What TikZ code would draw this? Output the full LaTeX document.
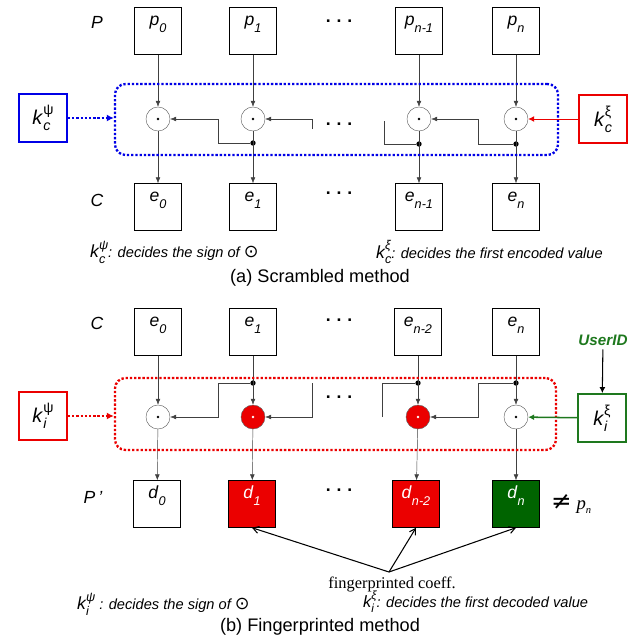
\documentclass[tikz,border=0pt]{standalone}
\usepackage{fontspec}
\setmainfont{Liberation Sans}
\newfontfamily\symfont{DejaVu Sans}
\newfontfamily\coefffont{Liberation Serif}
\usetikzlibrary{arrows.meta,positioning}

\definecolor{keyblue}{RGB}{0,0,230}
\definecolor{keyred}{RGB}{235,0,0}
\definecolor{keygreen}{RGB}{30,120,30}
\definecolor{darkgreen}{RGB}{0,100,0}

% letter with its index set low
\newcommand{\cf}[2]{\textit{#1}\raisebox{-0.4em}{\scalebox{0.72}{\textit{#2}}}}
% key symbol k with index and exponent
\newcommand{\kk}[2]{\textit{k}\ooalign{\raisebox{0.5em}{\scalebox{0.72}{#2}}\cr\raisebox{-0.3em}{\scalebox{0.72}{\textit{#1}}}\cr}}
\newcommand{\odotsign}{{\upshape\symfont\fontsize{15}{15}\selectfont ⊙}}

\tikzset{
  coeff/.style={draw, minimum size=1.41cm, inner sep=0pt, text height=9pt, text depth=19pt,
    font=\fontsize{15}{16}\selectfont},
  keybox/.style={draw, line width=1.6pt, minimum size=1.44cm, inner sep=0pt,
    font=\fontsize{17}{18}\selectfont},
  op/.style={circle, draw=black!60, minimum size=0.72cm, inner sep=0pt,
    path picture={\fill[black] (path picture bounding box.center) circle (1.2pt);}},
  opmark/.style={circle, draw=black!60, fill=keyred, minimum size=0.72cm, inner sep=0pt,
    path picture={\fill[white] (path picture bounding box.center) circle (1.2pt);}},
  jn/.style={circle, fill=black, inner sep=0pt, minimum size=0.16cm},
  frame/.style={draw, line width=2pt, dash pattern=on 2pt off 1.6pt, rounded corners=9pt, inner sep=0pt},
  keyline/.style={line width=2pt, dash pattern=on 2pt off 1.6pt, -{Latex[length=6pt,width=6pt]}},
  flow/.style={draw=black!75, -{Latex[length=5pt,width=4pt]}},
  wire/.style={draw=black!75},
  pointer/.style={line width=0.9pt, -{Straight Barb[length=5pt,width=6pt]}},
  tag/.style={font=\fontsize{15}{16}\selectfont\itshape},
  dots/.style={font=\fontsize{15}{16}\selectfont\bfseries},
  note/.style={font=\fontsize{12.5}{14}\selectfont\itshape, inner sep=0pt},
  title/.style={font=\fontsize{15.5}{17}\selectfont}
}

\begin{document}
\begin{tikzpicture}[x=0.03cm, y=-0.03cm]
\useasboundingbox (0,0) rectangle (636,636);

% (a) scrambled
\node[tag] (rowP) at (97,22) {P};
\node[tag] (rowC) at (97,200) {C};

\node[coeff] (p0) at (158,31) {\cf{p}{0}};
\node[coeff] (p1) at (253,31) {\cf{p}{1}};
\node[coeff] (p2) at (419,31) {\cf{p}{n-1}};
\node[coeff] (p3) at (516,31) {\cf{p}{n}};
\node[dots] (dotsP) at (339,21) {.\,\,.\,\,.};

\node[op] (c0) at (158,119) {};
\node[op] (c1) at (253,119) {};
\node[op] (c2) at (419,119) {};
\node[op] (c3) at (516,119) {};
\node[dots] (dotsO) at (339,124) {.\,\,.\,\,.};

\node[coeff] (e0) at (158,207) {\cf{e}{0}};
\node[coeff] (e1) at (253,207) {\cf{e}{1}};
\node[coeff] (e2) at (419,207) {\cf{e}{n-1}};
\node[coeff] (e3) at (516,207) {\cf{e}{n}};
\node[dots] (dotsE) at (339,193) {.\,\,.\,\,.};

\node[jn] (j1) at (253,143) {};
\node[jn] (j2) at (419,144) {};
\node[jn] (j3) at (516,144) {};

\draw[flow] (p0) -- (c0);
\draw[flow] (p1) -- (c1);
\draw[flow] (p2) -- (c2);
\draw[flow] (p3) -- (c3);
\draw[flow] (c0) -- (e0);
\draw[flow] (c1) -- (e1);
\draw[flow] (c2) -- (e2);
\draw[flow] (c3) -- (e3);

\draw[flow] (j1) -| (218,119) -- (c0.east);
\draw[flow] (312,129) |- (c1.east);
\draw[wire] (384,121) |- (j2);
\draw[flow] (j3) -| (478,119) -- (c2.east);

\node[frame, draw=keyblue, minimum width=13.29cm, minimum height=2.13cm] (scr) at (336.5,119.5) {};
\node[keybox, draw=keyblue] (kcpsi) at (43,118) {\kk{c}{ψ}};
\node[keybox, draw=keyred] (kcxi) at (603,119) {\kk{c}{ξ}};
\draw[keyline, keyblue] (kcpsi) -- (kcpsi -| scr.west);
\draw[keyred, thick, -{Latex[length=5pt,width=5pt]}] (kcxi) -- (c3);

\node[note, anchor=west] (notea1) at (90,252) {{\fontsize{15}{15}\selectfont\kk{c}{ψ}}: decides the sign of \odotsign};
\node[note, anchor=west] (notea2) at (376,252) {{\fontsize{15}{15}\selectfont\kk{c}{ξ}}: decides the first encoded value};
\node[title] (titlea) at (320,278) {(a) Scrambled method};

% (b) fingerprinted
\node[tag] (rowC2) at (97,323) {C};
\node[tag] (rowPd) at (93,497) {P\,’};

\node[coeff] (r0) at (158,332) {\cf{e}{0}};
\node[coeff] (r1) at (253,332) {\cf{e}{1}};
\node[coeff] (r2) at (418,332) {\cf{e}{n-2}};
\node[coeff] (r3) at (516,332) {\cf{e}{n}};
\node[dots] (dotsR) at (339,320) {.\,\,.\,\,.};

\node[op] (g0) at (158,417) {};
\node[opmark] (g1) at (253,417) {};
\node[opmark] (g2) at (418,417) {};
\node[op] (g3) at (516,417) {};
\node[dots] (dotsG) at (339,397) {.\,\,.\,\,.};

\node[coeff] (d0) at (157,504) {\cf{d}{0}};
\node[coeff, fill=keyred, text=white] (d1) at (252,504) {\cf{d}{1}};
\node[coeff, fill=keyred, text=white] (d2) at (416,504) {\cf{d}{n-2}};
\node[coeff, fill=darkgreen, text=white] (d3) at (516,504) {\cf{d}{n}};
\node[dots] (dotsD) at (339,490) {.\,\,.\,\,.};
\node[anchor=west, inner sep=0pt] (neq) at (551,504)
  {{\symfont\fontsize{21}{21}\selectfont ≠}\hspace{4pt}{\coefffont\itshape\fontsize{16}{16}\selectfont p}\raisebox{-3pt}{\coefffont\itshape\fontsize{9}{9}\selectfont n}};

\node[jn] (h1) at (253,383) {};
\node[jn] (h2) at (418,383) {};
\node[jn] (h3) at (516,383) {};

\draw[flow] (r0) -- (g0);
\draw[flow] (r1) -- (g1);
\draw[flow] (r2) -- (g2);
\draw[flow] (r3) -- (g3);
\draw[flow] (g0) -- (d0);
\draw[flow] (g1) -- (d1);
\draw[flow] (g2) -- (d2);
\draw[flow] (g3) -- (d3);

\draw[flow] (h1) -| (218,417) -- (g0.east);
\draw[flow] (312,383) |- (g1.east);
\draw[wire] (382,417) |- (h2);
\draw[flow] (h3) -| (478,417) -- (g2.east);

\node[frame, draw=keyred, minimum width=13.23cm, minimum height=2.16cm] (fgp) at (335.5,414) {};
\node[keybox, draw=keyred] (kipsi) at (43,416) {\kk{i}{ψ}};
\node[keybox, draw=keygreen] (kixi) at (602,418) {\kk{i}{ξ}};
\node[font=\fontsize{13}{14}\selectfont\bfseries\itshape, text=keygreen] (uid) at (603,340) {UserID};
\draw[keyline, keyred] (kipsi) -- (kipsi -| fgp.west);
\draw[keygreen, line width=1.3pt, -{Latex[length=5pt,width=5pt]}] (kixi) -- (g3);
\draw[line width=0.9pt, -{Latex[length=5pt,width=5pt]}] (uid) -- (kixi);

\node[font=\coefffont\fontsize{14}{15}\selectfont] (fpc) at (392,584) {fingerprinted coeff.};
\coordinate (fp) at (389,572);
\draw[pointer] (fp) -- (d1.south);
\draw[pointer] (fp) -- (d2.south);
\draw[pointer] (fp) -- (d3.south);

\node[note, anchor=west] (noteb1) at (77,604) {{\fontsize{15}{15}\selectfont\kk{i}{ψ}} : decides the sign of \odotsign};
\node[note, anchor=west] (noteb2) at (363,602) {{\fontsize{14}{14}\selectfont\kk{i}{ξ}}: decides the first decoded value};
\node[title] (titleb) at (320,627) {(b) Fingerprinted method};
\end{tikzpicture}
\end{document}
